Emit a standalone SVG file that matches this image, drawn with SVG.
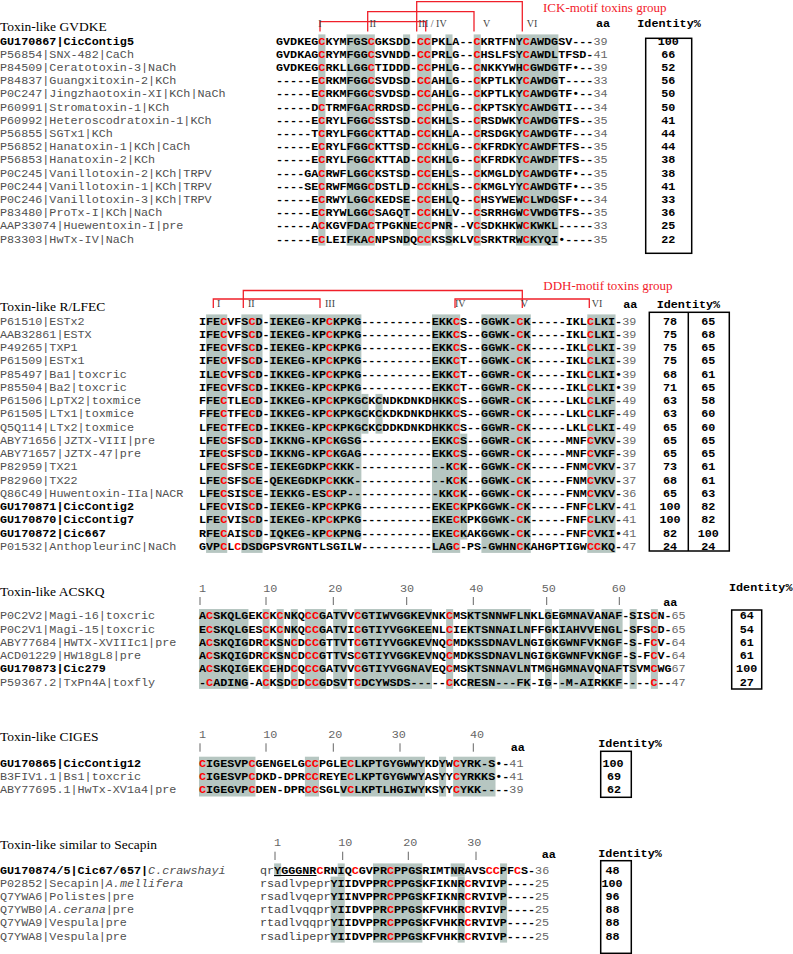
<svg xmlns="http://www.w3.org/2000/svg" width="793" height="954" viewBox="0 0 793 954">
<style>
.t{font-family:"Liberation Serif",serif;font-size:13.5px;fill:#000}
.n{font-family:"Liberation Mono",monospace;font-size:11.76px;fill:#505050}
.nb{font-family:"Liberation Mono",monospace;font-size:11.76px;font-weight:bold;fill:#000}
.s{font-family:"Liberation Mono",monospace;font-size:11.76px;font-weight:bold;fill:#000}
.r{fill:#ff0000}
.e{font-weight:normal;fill:#666}
.lc{font-weight:normal;fill:#444}
.it{font-style:italic;font-weight:normal;fill:#505050}
.h{font-family:"Liberation Mono",monospace;font-size:11.76px;font-weight:bold;fill:#000}
.id{font-family:"Liberation Mono",monospace;font-size:11.76px;font-weight:bold;fill:#000;text-anchor:middle}
.lb{font-family:"Liberation Serif",serif;font-size:10px;fill:#444}
.gt{font-family:"Liberation Serif",serif;font-size:13px;fill:#f2202a}
.br{fill:none;stroke:#f0202a;stroke-width:1.3}
.sh rect{fill:#b6c6c1}
.bx{fill:none;stroke:#000;stroke-width:1.5}
.ru{font-family:"Liberation Mono",monospace;font-size:11.76px;fill:#666}
.tk{stroke:#666;stroke-width:1}
</style>
<rect x="0" y="0" width="793" height="954" fill="#fff"/>

<!-- Section 1 -->
<g id="gvdke">
<text class="t" x="0" y="31">Toxin-like GVDKE</text>
<g class="sh">
<rect x="318.36" y="34.4" width="7.06" height="211.2"/>
<rect x="346.6" y="34.4" width="28.24" height="211.2"/>
<rect x="403.08" y="34.4" width="7.06" height="211.2"/>
<rect x="417.2" y="34.4" width="14.12" height="211.2"/>
<rect x="445.44" y="34.4" width="7.06" height="211.2"/>
<rect x="473.68" y="34.4" width="7.06" height="211.2"/>
<rect x="516.04" y="34.4" width="42.36" height="211.2"/>
</g>
<g id="gvdke-names">
<text class="nb" x="0" y="44.5">GU170867|CicContig5</text>
<text class="n" x="0" y="57.7">P56854|SNX-482|CaCh</text>
<text class="n" x="0" y="70.9">P84509|Ceratotoxin-3|NaCh</text>
<text class="n" x="0" y="84.1">P84837|Guangxitoxin-2|KCh</text>
<text class="n" x="0" y="97.3">P0C247|Jingzhaotoxin-XI|KCh|NaCh</text>
<text class="n" x="0" y="110.5">P60991|Stromatoxin-1|KCh</text>
<text class="n" x="0" y="123.7">P60992|Heteroscodratoxin-1|KCh</text>
<text class="n" x="0" y="136.9">P56855|SGTx1|KCh</text>
<text class="n" x="0" y="150.1">P56852|Hanatoxin-1|KCh|CaCh</text>
<text class="n" x="0" y="163.3">P56853|Hanatoxin-2|KCh</text>
<text class="n" x="0" y="176.5">P0C245|Vanillotoxin-2|KCh|TRPV</text>
<text class="n" x="0" y="189.7">P0C244|Vanillotoxin-1|KCh|TRPV</text>
<text class="n" x="0" y="202.9">P0C246|Vanillotoxin-3|KCh|TRPV</text>
<text class="n" x="0" y="216.1">P83480|ProTx-I|KCh|NaCh</text>
<text class="n" x="0" y="229.3">AAP33074|Huewentoxin-I|pre</text>
<text class="n" x="0" y="242.5">P83303|HwTx-IV|NaCh</text>
</g>
<g id="gvdke-seqs">
<text class="s" x="276" y="44.5">GVDKEG<tspan class="r">C</tspan>KYMFGS<tspan class="r">C</tspan>GKSDD-<tspan class="r">CC</tspan>PKLA--<tspan class="r">C</tspan>KRTFNY<tspan class="r">C</tspan>AWDGSV---<tspan class="e">39</tspan></text>
<text class="s" x="276" y="57.7">GVDKAG<tspan class="r">C</tspan>RYMFGG<tspan class="r">C</tspan>SVNDD-<tspan class="r">CC</tspan>PRLG--<tspan class="r">C</tspan>HSLFSY<tspan class="r">C</tspan>AWDLTFSD-<tspan class="e">41</tspan></text>
<text class="s" x="276" y="70.9">GVDKEG<tspan class="r">C</tspan>RKLLGG<tspan class="r">C</tspan>TIDDD-<tspan class="r">CC</tspan>PHLG--<tspan class="r">C</tspan>NKKYWH<tspan class="r">C</tspan>GWDGTF•--<tspan class="e">39</tspan></text>
<text class="s" x="276" y="84.1">-----E<tspan class="r">C</tspan>RKMFGG<tspan class="r">C</tspan>SVDSD-<tspan class="r">CC</tspan>AHLG--<tspan class="r">C</tspan>KPTLKY<tspan class="r">C</tspan>AWDGT----<tspan class="e">33</tspan></text>
<text class="s" x="276" y="97.3">-----E<tspan class="r">C</tspan>RKMFGG<tspan class="r">C</tspan>SVDSD-<tspan class="r">CC</tspan>AHLG--<tspan class="r">C</tspan>KPTLKY<tspan class="r">C</tspan>AWDGTF•--<tspan class="e">34</tspan></text>
<text class="s" x="276" y="110.5">-----D<tspan class="r">C</tspan>TRMFGA<tspan class="r">C</tspan>RRDSD-<tspan class="r">CC</tspan>PHLG--<tspan class="r">C</tspan>KPTSKY<tspan class="r">C</tspan>AWDGTI---<tspan class="e">34</tspan></text>
<text class="s" x="276" y="123.7">-----E<tspan class="r">C</tspan>RYLFGG<tspan class="r">C</tspan>SSTSD-<tspan class="r">CC</tspan>KHLS--<tspan class="r">C</tspan>RSDWKY<tspan class="r">C</tspan>AWDGTFS--<tspan class="e">35</tspan></text>
<text class="s" x="276" y="136.9">-----T<tspan class="r">C</tspan>RYLFGG<tspan class="r">C</tspan>KTTAD-<tspan class="r">CC</tspan>KHLA--<tspan class="r">C</tspan>RSDGKY<tspan class="r">C</tspan>AWDGTF---<tspan class="e">34</tspan></text>
<text class="s" x="276" y="150.1">-----E<tspan class="r">C</tspan>RYLFGG<tspan class="r">C</tspan>KTTSD-<tspan class="r">CC</tspan>KHLG--<tspan class="r">C</tspan>KFRDKY<tspan class="r">C</tspan>AWDFTFS--<tspan class="e">35</tspan></text>
<text class="s" x="276" y="163.3">-----E<tspan class="r">C</tspan>RYLFGG<tspan class="r">C</tspan>KTTAD-<tspan class="r">CC</tspan>KHLG--<tspan class="r">C</tspan>KFRDKY<tspan class="r">C</tspan>AWDFTFS--<tspan class="e">35</tspan></text>
<text class="s" x="276" y="176.5">----GA<tspan class="r">C</tspan>RWFLGG<tspan class="r">C</tspan>KSTSD-<tspan class="r">CC</tspan>EHLS--<tspan class="r">C</tspan>KMGLDY<tspan class="r">C</tspan>AWDGTF•--<tspan class="e">35</tspan></text>
<text class="s" x="276" y="189.7">----SE<tspan class="r">C</tspan>RWFMGG<tspan class="r">C</tspan>DSTLD-<tspan class="r">CC</tspan>KHLS--<tspan class="r">C</tspan>KMGLYY<tspan class="r">C</tspan>AWDGTF•--<tspan class="e">35</tspan></text>
<text class="s" x="276" y="202.9">-----E<tspan class="r">C</tspan>RWYLGG<tspan class="r">C</tspan>KEDSE-<tspan class="r">CC</tspan>EHLQ--<tspan class="r">C</tspan>HSYWEW<tspan class="r">C</tspan>LWDGSF•--<tspan class="e">34</tspan></text>
<text class="s" x="276" y="216.1">-----E<tspan class="r">C</tspan>RYWLGG<tspan class="r">C</tspan>SAGQT-<tspan class="r">CC</tspan>KHLV--<tspan class="r">C</tspan>SRRHGW<tspan class="r">C</tspan>VWDGTFS--<tspan class="e">35</tspan></text>
<text class="s" x="276" y="229.3">-----A<tspan class="r">C</tspan>KGVFDA<tspan class="r">C</tspan>TPGKNE<tspan class="r">CC</tspan>PNR--V<tspan class="r">C</tspan>SDKHKW<tspan class="r">C</tspan>KWKL-----<tspan class="e">33</tspan></text>
<text class="s" x="276" y="242.5">-----E<tspan class="r">C</tspan>LEIFKA<tspan class="r">C</tspan>NPSNDQ<tspan class="r">CC</tspan>KSSKLV<tspan class="r">C</tspan>SRKTRW<tspan class="r">C</tspan>KYQI•----<tspan class="e">35</tspan></text>
</g>
<g id="gvdke-bridges">
<path class="br" d="M320,31.5V21.7H425.7V31.5"/>
<path class="br" d="M367.7,31.5V11.7H474V31.5"/>
<path class="br" d="M416.7,31.5V1.7H522.3V31.5"/>
</g>
<text class="lb" x="320" y="27.3" text-anchor="middle">I</text>
<text class="lb" x="369.5" y="27.3">II</text>
<text class="lb" x="418.3" y="27.3">III / IV</text>
<text class="lb" x="483" y="27.3">V</text>
<text class="lb" x="526.7" y="27.3">VI</text>
<text class="gt" x="543" y="11.5">ICK-motif toxins group</text>
<text class="h" x="596" y="27.3">aa</text>
<text class="h" x="637.3" y="27.3">Identity%</text>
<rect class="bx" x="645.7" y="38.3" width="46" height="215"/>
<g id="gvdke-ident">
<text class="id" x="668.3" y="44.5">100</text>
<text class="id" x="668.3" y="57.7">66</text>
<text class="id" x="668.3" y="70.9">52</text>
<text class="id" x="668.3" y="84.1">56</text>
<text class="id" x="668.3" y="97.3">50</text>
<text class="id" x="668.3" y="110.5">50</text>
<text class="id" x="668.3" y="123.7">41</text>
<text class="id" x="668.3" y="136.9">44</text>
<text class="id" x="668.3" y="150.1">44</text>
<text class="id" x="668.3" y="163.3">38</text>
<text class="id" x="668.3" y="176.5">38</text>
<text class="id" x="668.3" y="189.7">41</text>
<text class="id" x="668.3" y="202.9">33</text>
<text class="id" x="668.3" y="216.1">36</text>
<text class="id" x="668.3" y="229.3">25</text>
<text class="id" x="668.3" y="242.5">22</text>
</g>
</g>

<!-- Section 2 -->
<g id="rlfec">
<text class="t" x="0" y="311">Toxin-like R/LFEC</text>
<g class="sh">
<rect x="206.06" y="314.4" width="21.18" height="238.5"/>
<rect x="241.36" y="314.4" width="21.18" height="238.5"/>
<rect x="269.6" y="314.4" width="91.78" height="225.2"/>
<rect x="361.38" y="393.9" width="7.06" height="39.75"/>
<rect x="375.5" y="393.9" width="7.06" height="39.75"/>
<rect x="431.98" y="314.4" width="28.24" height="238.5"/>
<rect x="460.22" y="433.65" width="7.06" height="105.95"/>
<rect x="481.4" y="314.4" width="49.42" height="238.5"/>
<rect x="587.3" y="314.4" width="28.24" height="238.5"/>
</g>
<g id="rlfec-names">
<text class="n" x="0" y="324.5">P61510|ESTx2</text>
<text class="n" x="0" y="337.75">AAB32861|ESTX</text>
<text class="n" x="0" y="351">P49265|TXP1</text>
<text class="n" x="0" y="364.25">P61509|ESTx1</text>
<text class="n" x="0" y="377.5">P85497|Ba1|toxcric</text>
<text class="n" x="0" y="390.75">P85504|Ba2|toxcric</text>
<text class="n" x="0" y="404">P61506|LpTX2|toxmice</text>
<text class="n" x="0" y="417.25">P61505|LTx1|toxmice</text>
<text class="n" x="0" y="430.5">Q5Q114|LTx2|toxmice</text>
<text class="n" x="0" y="443.75">ABY71656|JZTX-VIII|pre</text>
<text class="n" x="0" y="457">ABY71657|JZTX-47|pre</text>
<text class="n" x="0" y="470.25">P82959|TX21</text>
<text class="n" x="0" y="483.5">P82960|TX22</text>
<text class="n" x="0" y="496.75">Q86C49|Huwentoxin-IIa|NACR</text>
<text class="nb" x="0" y="510">GU170871|CicContig2</text>
<text class="nb" x="0" y="523.25">GU170870|CicContig7</text>
<text class="nb" x="0" y="536.5">GU170872|Cic667</text>
<text class="n" x="0" y="549.75">P01532|AnthopleurinC|NaCh</text>
</g>
<g id="rlfec-seqs">
<text class="s" x="199" y="324.5">IFE<tspan class="r">C</tspan>VFS<tspan class="r">C</tspan>D-IEKEG-KP<tspan class="r">C</tspan>KPKG----------EKK<tspan class="r">C</tspan>S--GGWK-<tspan class="r">C</tspan>K-----IKL<tspan class="r">C</tspan>LKI-<tspan class="e">39</tspan></text>
<text class="s" x="199" y="337.75">IFE<tspan class="r">C</tspan>VFS<tspan class="r">C</tspan>D-IEKEG-KP<tspan class="r">C</tspan>KPKG----------EKK<tspan class="r">C</tspan>S--GGWK-<tspan class="r">C</tspan>K-----IKL<tspan class="r">C</tspan>LKI-<tspan class="e">39</tspan></text>
<text class="s" x="199" y="351">IFE<tspan class="r">C</tspan>VFS<tspan class="r">C</tspan>D-IEKEG-KP<tspan class="r">C</tspan>KPKG----------EKK<tspan class="r">C</tspan>S--GGWK-<tspan class="r">C</tspan>K-----IKL<tspan class="r">C</tspan>LKI-<tspan class="e">39</tspan></text>
<text class="s" x="199" y="364.25">IFE<tspan class="r">C</tspan>VFS<tspan class="r">C</tspan>D-IEKEG-KP<tspan class="r">C</tspan>KPKG----------EKK<tspan class="r">C</tspan>T--GGWK-<tspan class="r">C</tspan>K-----IKL<tspan class="r">C</tspan>LKI-<tspan class="e">39</tspan></text>
<text class="s" x="199" y="377.5">ILE<tspan class="r">C</tspan>VFS<tspan class="r">C</tspan>D-IKKEG-KP<tspan class="r">C</tspan>KPKG----------EKK<tspan class="r">C</tspan>T--GGWR-<tspan class="r">C</tspan>K-----IKL<tspan class="r">C</tspan>LKI•<tspan class="e">39</tspan></text>
<text class="s" x="199" y="390.75">IFE<tspan class="r">C</tspan>VFS<tspan class="r">C</tspan>D-IKKEG-KP<tspan class="r">C</tspan>KPKG----------EKK<tspan class="r">C</tspan>T--GGWR-<tspan class="r">C</tspan>K-----IKL<tspan class="r">C</tspan>LKI•<tspan class="e">39</tspan></text>
<text class="s" x="199" y="404">FFE<tspan class="r">C</tspan>TLE<tspan class="r">C</tspan>D-IKKEG-KP<tspan class="r">C</tspan>KPKGCKCNDKDNKDHKK<tspan class="r">C</tspan>S--GGWR-<tspan class="r">C</tspan>K-----LKL<tspan class="r">C</tspan>LKF-<tspan class="e">49</tspan></text>
<text class="s" x="199" y="417.25">FFE<tspan class="r">C</tspan>TFE<tspan class="r">C</tspan>D-IKKEG-KP<tspan class="r">C</tspan>KPKGCKCKDKDNKDHKK<tspan class="r">C</tspan>S--GGWR-<tspan class="r">C</tspan>K-----LKL<tspan class="r">C</tspan>LKF-<tspan class="e">49</tspan></text>
<text class="s" x="199" y="430.5">LFE<tspan class="r">C</tspan>TFE<tspan class="r">C</tspan>D-IKKEG-KP<tspan class="r">C</tspan>KPKGCKCDDKDNKDHKK<tspan class="r">C</tspan>S--GGWR-<tspan class="r">C</tspan>K-----LKL<tspan class="r">C</tspan>LKI-<tspan class="e">49</tspan></text>
<text class="s" x="199" y="443.75">LFE<tspan class="r">C</tspan>SFS<tspan class="r">C</tspan>D-IKKNG-KP<tspan class="r">C</tspan>KGSG----------EKK<tspan class="r">C</tspan>S--GGWR-<tspan class="r">C</tspan>K-----MNF<tspan class="r">C</tspan>VKV-<tspan class="e">39</tspan></text>
<text class="s" x="199" y="457">IFE<tspan class="r">C</tspan>SFS<tspan class="r">C</tspan>D-IKKNG-KP<tspan class="r">C</tspan>KGAG----------EKK<tspan class="r">C</tspan>S--GGWR-<tspan class="r">C</tspan>K-----MNF<tspan class="r">C</tspan>VKF-<tspan class="e">39</tspan></text>
<text class="s" x="199" y="470.25">LFE<tspan class="r">C</tspan>SFS<tspan class="r">C</tspan>E-IEKEGDKP<tspan class="r">C</tspan>KKK-------------K<tspan class="r">C</tspan>K--GGWK-<tspan class="r">C</tspan>K-----FNM<tspan class="r">C</tspan>VKV-<tspan class="e">37</tspan></text>
<text class="s" x="199" y="483.5">LFE<tspan class="r">C</tspan>SFS<tspan class="r">C</tspan>E-QEKEGDKP<tspan class="r">C</tspan>KKK-------------K<tspan class="r">C</tspan>K--GGWK-<tspan class="r">C</tspan>K-----FNM<tspan class="r">C</tspan>VKV-<tspan class="e">37</tspan></text>
<text class="s" x="199" y="496.75">LFE<tspan class="r">C</tspan>SIS<tspan class="r">C</tspan>E-IEKKG-ES<tspan class="r">C</tspan>KP-------------KK<tspan class="r">C</tspan>K--GGWK-<tspan class="r">C</tspan>K-----FNM<tspan class="r">C</tspan>VKV-<tspan class="e">36</tspan></text>
<text class="s" x="199" y="510">LFE<tspan class="r">C</tspan>VIS<tspan class="r">C</tspan>D-IEKEG-KP<tspan class="r">C</tspan>KPKG----------EKE<tspan class="r">C</tspan>KPKGGWK-<tspan class="r">C</tspan>K-----FNF<tspan class="r">C</tspan>LKV-<tspan class="e">41</tspan></text>
<text class="s" x="199" y="523.25">LFE<tspan class="r">C</tspan>VIS<tspan class="r">C</tspan>D-IEKEG-KP<tspan class="r">C</tspan>KPKG----------EKE<tspan class="r">C</tspan>KPKGGWK-<tspan class="r">C</tspan>K-----FNF<tspan class="r">C</tspan>LKV-<tspan class="e">41</tspan></text>
<text class="s" x="199" y="536.5">RFE<tspan class="r">C</tspan>AIS<tspan class="r">C</tspan>D-IQKEG-KP<tspan class="r">C</tspan>KPNG----------EKE<tspan class="r">C</tspan>KAKGGWK-<tspan class="r">C</tspan>K-----FNF<tspan class="r">C</tspan>VKI•<tspan class="e">41</tspan></text>
<text class="s" x="199" y="549.75">GVP<tspan class="r">C</tspan>L<tspan class="r">C</tspan>DSDGPSVRGNTLSGILW----------LAG<tspan class="r">C</tspan>-PS-GWHN<tspan class="r">C</tspan>KAHGPTIGW<tspan class="r">CC</tspan>KQ-<tspan class="e">47</tspan></text>
</g>
<g id="rlfec-bridges">
<path class="br" d="M213.3,308V299H320V308"/>
<path class="br" d="M243.3,308V290.5H522.3V308"/>
<path class="br" d="M455,308V299H589.3V308"/>
</g>
<text class="lb" x="217" y="306.5">I</text>
<text class="lb" x="248" y="306.5">II</text>
<text class="lb" x="325" y="306.5">III</text>
<text class="lb" x="455" y="306.5">IV</text>
<text class="lb" x="520.7" y="306.5">V</text>
<text class="lb" x="591.7" y="306.5">VI</text>
<text class="gt" x="543.3" y="289.5">DDH-motif toxins group</text>
<text class="h" x="623.3" y="308">aa</text>
<text class="h" x="656.7" y="308">Identity%</text>
<rect class="bx" x="649.3" y="312.3" width="80" height="238.7"/>
<line x1="688.3" y1="312.3" x2="688.3" y2="551" stroke="#000" stroke-width="1.5"/>
<g id="rlfec-ident">
<text class="id" x="670" y="324.5">78</text><text class="id" x="708.3" y="324.5">65</text>
<text class="id" x="670" y="337.75">75</text><text class="id" x="708.3" y="337.75">68</text>
<text class="id" x="670" y="351">75</text><text class="id" x="708.3" y="351">65</text>
<text class="id" x="670" y="364.25">75</text><text class="id" x="708.3" y="364.25">65</text>
<text class="id" x="670" y="377.5">68</text><text class="id" x="708.3" y="377.5">61</text>
<text class="id" x="670" y="390.75">71</text><text class="id" x="708.3" y="390.75">65</text>
<text class="id" x="670" y="404">63</text><text class="id" x="708.3" y="404">58</text>
<text class="id" x="670" y="417.25">63</text><text class="id" x="708.3" y="417.25">60</text>
<text class="id" x="670" y="430.5">65</text><text class="id" x="708.3" y="430.5">60</text>
<text class="id" x="670" y="443.75">65</text><text class="id" x="708.3" y="443.75">65</text>
<text class="id" x="670" y="457">65</text><text class="id" x="708.3" y="457">65</text>
<text class="id" x="670" y="470.25">73</text><text class="id" x="708.3" y="470.25">61</text>
<text class="id" x="670" y="483.5">68</text><text class="id" x="708.3" y="483.5">61</text>
<text class="id" x="670" y="496.75">65</text><text class="id" x="708.3" y="496.75">63</text>
<text class="id" x="670" y="510">100</text><text class="id" x="708.3" y="510">82</text>
<text class="id" x="670" y="523.25">100</text><text class="id" x="708.3" y="523.25">82</text>
<text class="id" x="670" y="536.5">82</text><text class="id" x="708.3" y="536.5">100</text>
<text class="id" x="670" y="549.75">24</text><text class="id" x="708.3" y="549.75">24</text>
</g>
</g>

<!-- Section 3 -->
<g id="acskq">
<text class="t" x="0" y="595.7">Toxin-like ACSKQ</text>
<g class="sh">
<rect x="199" y="609" width="49.42" height="79.9"/>
<rect x="262.54" y="609" width="7.06" height="79.9"/>
<rect x="276.66" y="609" width="7.06" height="79.9"/>
<rect x="290.78" y="609" width="7.06" height="79.9"/>
<rect x="304.9" y="609" width="21.18" height="79.9"/>
<rect x="333.14" y="609" width="14.12" height="79.9"/>
<rect x="354.32" y="609" width="77.66" height="79.9"/>
<rect x="446.1" y="609" width="7.06" height="79.9"/>
<rect x="467.28" y="609" width="63.54" height="79.9"/>
<rect x="544.94" y="609" width="7.06" height="79.9"/>
<rect x="559.06" y="609" width="35.3" height="79.9"/>
<rect x="601.42" y="609" width="21.18" height="79.9"/>
<rect x="629.66" y="609" width="7.06" height="79.9"/>
<rect x="650.84" y="609" width="7.06" height="79.9"/>
</g>
<g id="acskq-ruler">
<text class="ru" x="199" y="591.5">1</text>
<text class="ru" x="263.3" y="591.5">10</text>
<text class="ru" x="328.3" y="591.5">20</text>
<text class="ru" x="400" y="591.5">30</text>
<text class="ru" x="469.3" y="591.5">40</text>
<text class="ru" x="541.7" y="591.5">50</text>
<text class="ru" x="611.7" y="591.5">60</text>
<path class="tk" d="M200,597V605M266,597V605M333.3,597V605M406.7,597V605M473.3,597V605M546.7,597V605M619.3,597V605"/>
</g>
<g id="acskq-names">
<text class="n" x="0" y="619.2">P0C2V2|Magi-16|toxcric</text>
<text class="n" x="0" y="632.5">P0C2V1|Magi-15|toxcric</text>
<text class="n" x="0" y="645.8">ABY77684|HWTX-XVIIIc1|pre</text>
<text class="n" x="0" y="659.1">ACD01229|HW18gL8|pre</text>
<text class="nb" x="0" y="672.4">GU170873|Cic279</text>
<text class="n" x="0" y="685.7">P59367.2|TxPn4A|toxfly</text>
</g>
<g id="acskq-seqs">
<text class="s" x="199" y="619.2">A<tspan class="r">C</tspan>SKQLGEK<tspan class="r">C</tspan>K<tspan class="r">C</tspan>NKQ<tspan class="r">CC</tspan>GATVV<tspan class="r">C</tspan>GTIWVGGKEVNK<tspan class="r">C</tspan>MSKTSNNWFLNKLGEGMNAVANAF-SIS<tspan class="r">C</tspan>N-<tspan class="e">65</tspan></text>
<text class="s" x="199" y="632.5">E<tspan class="r">C</tspan>SKQLGES<tspan class="r">C</tspan>K<tspan class="r">C</tspan>NKQ<tspan class="r">CC</tspan>GATVI<tspan class="r">C</tspan>GTIYVGGKEENL<tspan class="r">C</tspan>IEKTSNNAILNFFGKIAHVVENGL-SFS<tspan class="r">C</tspan>D-<tspan class="e">65</tspan></text>
<text class="s" x="199" y="645.8">A<tspan class="r">C</tspan>SKQIGDR<tspan class="r">C</tspan>KSN<tspan class="r">C</tspan>D<tspan class="r">CC</tspan>GTTVT<tspan class="r">C</tspan>GTIYVGGKEVNQ<tspan class="r">C</tspan>MDKSSDNAVLNGIGKGWNFVKNGF-S-F<tspan class="r">C</tspan>V-<tspan class="e">64</tspan></text>
<text class="s" x="199" y="659.1">A<tspan class="r">C</tspan>SKQIGDR<tspan class="r">C</tspan>KSN<tspan class="r">C</tspan>D<tspan class="r">CC</tspan>GTTVS<tspan class="r">C</tspan>GTIYVGGKEVNQ<tspan class="r">C</tspan>MDKSSDNAVLNGIGKGWNFVKNGF-S-F<tspan class="r">C</tspan>V-<tspan class="e">64</tspan></text>
<text class="s" x="199" y="672.4">A<tspan class="r">C</tspan>SKQIGEK<tspan class="r">C</tspan>EHD<tspan class="r">C</tspan>Q<tspan class="r">CC</tspan>GATVV<tspan class="r">C</tspan>GTIYVGGNAVEQ<tspan class="r">C</tspan>MSKTSNNAVLNTMGHGMNAVQNAFTSVM<tspan class="r">C</tspan>WG<tspan class="e">67</tspan></text>
<text class="s" x="199" y="685.7">-<tspan class="r">C</tspan>ADING-A<tspan class="r">C</tspan>KSD<tspan class="r">C</tspan>D<tspan class="r">CC</tspan>GDSVT<tspan class="r">C</tspan>DCYWSDS-----<tspan class="r">C</tspan>KCRESN---FK-IG--M-AIRKKF----<tspan class="r">C</tspan>--<tspan class="e">47</tspan></text>
</g>
<text class="h" x="663.3" y="605.7">aa</text>
<text class="h" x="729" y="591">Identity%</text>
<rect class="bx" x="731.7" y="610" width="30" height="79"/>
<g id="acskq-ident">
<text class="id" x="746.7" y="619.2">64</text>
<text class="id" x="746.7" y="632.5">54</text>
<text class="id" x="746.7" y="645.8">61</text>
<text class="id" x="746.7" y="659.1">61</text>
<text class="id" x="746.7" y="672.4">100</text>
<text class="id" x="746.7" y="685.7">27</text>
</g>
</g>

<!-- Section 4 -->
<g id="ciges">
<text class="t" x="0" y="741">Toxin-like CIGES</text>
<g class="sh">
<rect x="199" y="756.7" width="56.48" height="39.8"/>
<rect x="304.9" y="756.7" width="14.12" height="39.8"/>
<rect x="340.2" y="756.7" width="84.72" height="39.8"/>
<rect x="439.04" y="756.7" width="7.06" height="39.8"/>
<rect x="453.16" y="756.7" width="42.36" height="39.8"/>
</g>
<g id="ciges-ruler">
<text class="ru" x="199" y="738.3">1</text>
<text class="ru" x="263.3" y="738.3">10</text>
<text class="ru" x="328.3" y="738.3">20</text>
<text class="ru" x="391.7" y="738.3">30</text>
<text class="ru" x="470" y="738.3">40</text>
<path class="tk" d="M200,743.3V751.7M266,743.3V751.7M333.3,743.3V751.7M400,743.3V751.7M473.3,743.3V751.7"/>
</g>
<g id="ciges-names">
<text class="nb" x="0" y="766.8">GU170865|CicContig12</text>
<text class="n" x="0" y="780.1">B3FIV1.1|Bs1|toxcric</text>
<text class="n" x="0" y="793.4">ABY77695.1|HwTx-XV1a4|pre</text>
</g>
<g id="ciges-seqs">
<text class="s" x="199" y="766.8"><tspan class="r">C</tspan>IGESVP<tspan class="r">C</tspan>GENGELG<tspan class="r">CC</tspan>PGLE<tspan class="r">C</tspan>LKPTGYGWWYKDYW<tspan class="r">C</tspan>YRK-S•-<tspan class="e">41</tspan></text>
<text class="s" x="199" y="780.1"><tspan class="r">C</tspan>IGESVP<tspan class="r">C</tspan>DKD-DPR<tspan class="r">CC</tspan>REYE<tspan class="r">C</tspan>LKPTGYGWWYASYY<tspan class="r">C</tspan>YRKKS•-<tspan class="e">41</tspan></text>
<text class="s" x="199" y="793.4"><tspan class="r">C</tspan>IGEGVP<tspan class="r">C</tspan>DEN-DPR<tspan class="r">CC</tspan>SGLV<tspan class="r">C</tspan>LKPTLHGIWYKSYY<tspan class="r">C</tspan>YKK----<tspan class="e">39</tspan></text>
</g>
<text class="h" x="510.7" y="750.7">aa</text>
<text class="h" x="598.3" y="746.7">Identity%</text>
<rect class="bx" x="600.7" y="751.3" width="30.6" height="46"/>
<g id="ciges-ident">
<text class="id" x="613" y="766.8">100</text>
<text class="id" x="614" y="780.1">69</text>
<text class="id" x="614" y="793.4">62</text>
</g>
</g>

<!-- Section 5 -->
<g id="secapin">
<text class="t" x="0" y="849.3">Toxin-like similar to Secapin</text>
<g class="sh">
<rect x="274.12" y="863.4" width="7.06" height="13.2"/>
<rect x="337.66" y="863.4" width="7.06" height="13.2"/>
<rect x="330.6" y="876.6" width="14.12" height="66"/>
<rect x="372.96" y="863.4" width="49.42" height="79.2"/>
<rect x="450.62" y="863.4" width="14.12" height="13.2"/>
<rect x="457.68" y="876.6" width="7.06" height="66"/>
<rect x="500.04" y="863.4" width="7.06" height="79.2"/>
</g>
<g id="secapin-ruler">
<text class="ru" x="274" y="846">1</text>
<text class="ru" x="338.3" y="846">10</text>
<text class="ru" x="403.3" y="846">20</text>
<text class="ru" x="467.3" y="846">30</text>
<path class="tk" d="M275,851.7V860M342.7,851.7V860M408.3,851.7V860M476,851.7V860"/>
</g>
<g id="secapin-names">
<text class="nb" x="0" y="873.5">GU170874/5|Cic67/657|<tspan class="it">C.crawshayi</tspan></text>
<text class="n" x="0" y="886.7">P02852|Secapin|<tspan font-style="italic">A.mellifera</tspan></text>
<text class="n" x="0" y="899.9">Q7YWA6|Polistes|pre</text>
<text class="n" x="0" y="913.1">Q7YWB0|<tspan font-style="italic">A.cerana</tspan>|pre</text>
<text class="n" x="0" y="926.3">Q7YWA9|Vespula|pre</text>
<text class="n" x="0" y="939.5">Q7YWA8|Vespula|pre</text>
</g>
<g id="secapin-seqs">
<text class="s" x="260" y="873.5"><tspan class="lc">qr</tspan>YGGGNR<tspan class="r">C</tspan>RNIQ<tspan class="r">C</tspan>GVPR<tspan class="r">C</tspan>PPGSRIMTNRAVS<tspan class="r">CC</tspan>PF<tspan class="r">C</tspan>S-<tspan class="e">36</tspan></text>
<line x1="274.1" y1="875.5" x2="316.5" y2="875.5" stroke="#000" stroke-width="1"/>
<text class="s" x="260" y="886.7"><tspan class="lc">rsadlvpepr</tspan>YIIDVPPR<tspan class="r">C</tspan>PPGSKFIKNR<tspan class="r">C</tspan>RVIVP----<tspan class="e">25</tspan></text>
<text class="s" x="260" y="899.9"><tspan class="lc">rsadlvqepr</tspan>YIINVPPR<tspan class="r">C</tspan>PPGSKFIKNR<tspan class="r">C</tspan>RVIVP----<tspan class="e">25</tspan></text>
<text class="s" x="260" y="913.1"><tspan class="lc">rtadlvqqpr</tspan>YIIDVPPR<tspan class="r">C</tspan>PPGSKFVHKR<tspan class="r">C</tspan>RVIVP----<tspan class="e">25</tspan></text>
<text class="s" x="260" y="926.3"><tspan class="lc">rtadlvqqpr</tspan>YIIDVPPR<tspan class="r">C</tspan>PPGSKFVHKR<tspan class="r">C</tspan>RVIVP----<tspan class="e">25</tspan></text>
<text class="s" x="260" y="939.5"><tspan class="lc">rsadlipepr</tspan>YIIDVPPR<tspan class="r">C</tspan>PPGSKFVHKR<tspan class="r">C</tspan>RVIVP----<tspan class="e">25</tspan></text>
</g>
<text class="h" x="541.7" y="857.7">aa</text>
<text class="h" x="598.3" y="857.3">Identity%</text>
<rect class="bx" x="600.7" y="860.7" width="30.6" height="92.6"/>
<g id="secapin-ident">
<text class="id" x="612.5" y="873.5">48</text>
<text class="id" x="612" y="886.7">100</text>
<text class="id" x="612.5" y="899.9">96</text>
<text class="id" x="612.5" y="913.1">88</text>
<text class="id" x="612.5" y="926.3">88</text>
<text class="id" x="612.5" y="939.5">88</text>
</g>
</g>
</svg>
